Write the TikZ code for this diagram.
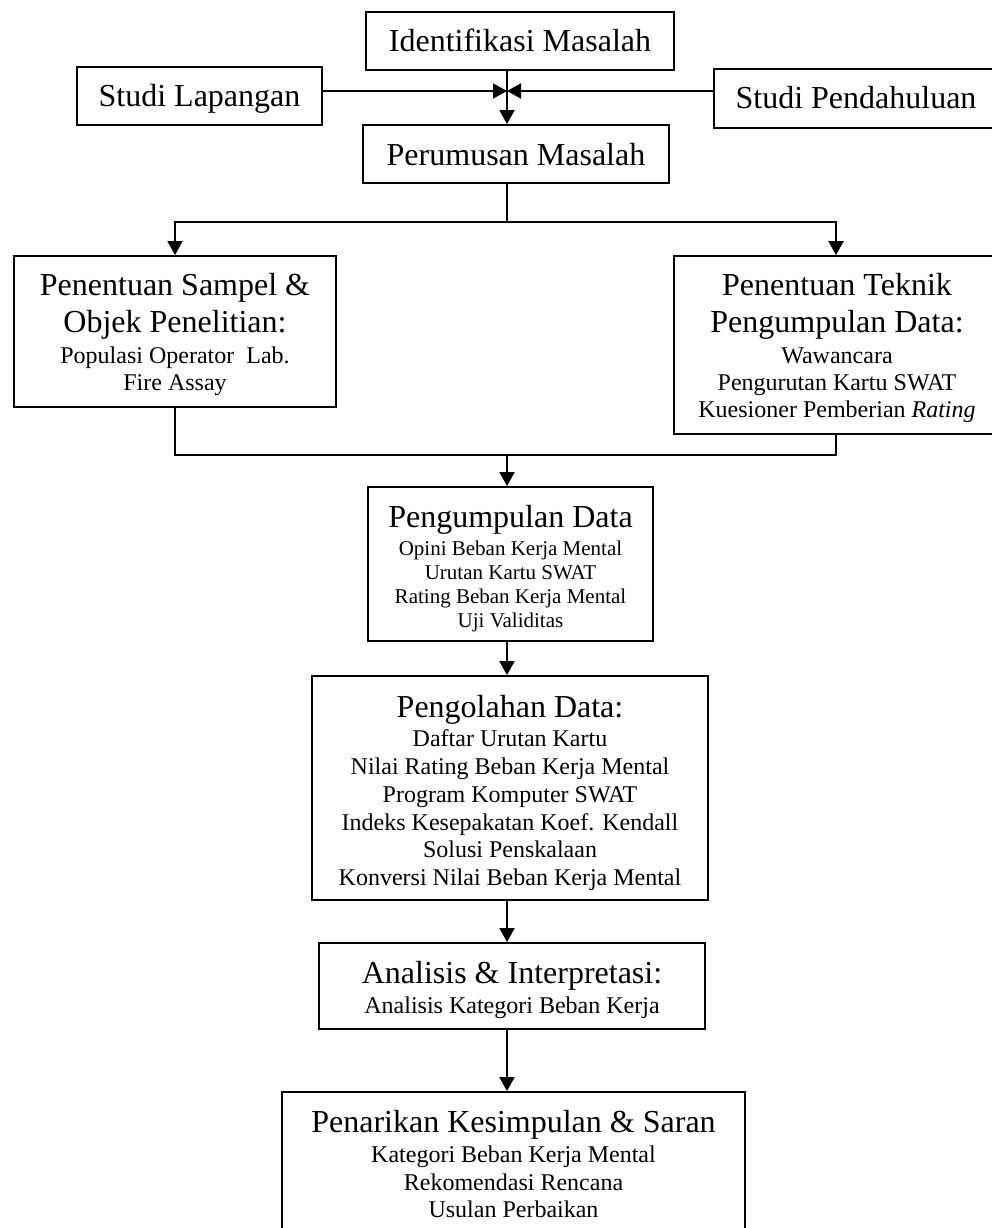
\documentclass[tikz,border=0pt]{standalone}
\usepackage{fontspec}
\setmainfont{Liberation Serif}
\usetikzlibrary{arrows.meta}
\tikzset{
  box/.style={draw, line width=1.8pt, rectangle, inner sep=0pt},
  hd/.style={font=\fontsize{32}{38}\selectfont, anchor=base, inner sep=0pt},
  sb/.style={font=\fontsize{24}{28}\selectfont, anchor=base, inner sep=0pt},
  sbs/.style={font=\fontsize{21}{25}\selectfont, anchor=base, inner sep=0pt},
  conn/.style={line width=1.8pt},
  arr/.style={line width=1.8pt, -{Triangle[length=14pt,width=15pt]}}
}
\begin{document}
\begin{tikzpicture}[x=1pt,y=-1pt]
\useasboundingbox (0,0) rectangle (992,1228);
\clip (0,0) rectangle (992,1228);
\fill[white] (0,0) rectangle (992,1228);
% boxes
\node[box, minimum width=308pt, minimum height=58pt] (ident) at (520,41) {};
\node[box, minimum width=245pt, minimum height=58pt] (slap) at (199.5,96) {};
\node[box, minimum width=284pt, minimum height=59pt] (spend) at (856,98.5) {};
\node[box, minimum width=306pt, minimum height=58pt] (perum) at (516,154) {};
\node[box, minimum width=322pt, minimum height=151pt] (lbox) at (175,331.5) {};
\node[box, minimum width=324pt, minimum height=178pt] (rbox) at (836,345) {};
\node[box, minimum width=285pt, minimum height=154pt] (pengum) at (510.5,564) {};
\node[box, minimum width=396pt, minimum height=224pt] (pengol) at (510,788) {};
\node[box, minimum width=386pt, minimum height=86pt] (anal) at (512,986) {};
\node[box, minimum width=463pt, minimum height=140pt] (final) at (513.5,1162) {};
% texts
\node[hd] (t1) at (520,52) {Identifikasi Masalah};
\node[hd] (t2) at (199.5,107) {Studi Lapangan};
\node[hd] (t3) at (856,109) {Studi Pendahuluan};
\node[hd] (t4) at (516,165) {Perumusan Masalah};
\node[hd] (t5a) at (175,295) {Penentuan Sampel \&};
\node[hd] (t5b) at (175,332) {Objek Penelitian:};
\node[sb] (t5c) at (175,363) {Populasi Operator\ \ Lab.};
\node[sb] (t5d) at (175,390) {Fire Assay};
\node[hd] (t6a) at (837,295) {Penentuan Teknik};
\node[hd] (t6b) at (837,332) {Pengumpulan Data:};
\node[sb] (t6c) at (837,363) {Wawancara};
\node[sb] (t6d) at (837,390) {Pengurutan Kartu SWAT};
\node[sb] (t6e) at (837,417) {Kuesioner Pemberian \textit{Rating}};
\node[hd] (t7a) at (510.5,527) {Pengumpulan Data};
\node[sbs] (t7b) at (510.5,555) {Opini Beban Kerja Mental};
\node[sbs] (t7c) at (510.5,579) {Urutan Kartu SWAT};
\node[sbs] (t7d) at (510.5,603) {Rating Beban Kerja Mental};
\node[sbs] (t7e) at (510.5,627) {Uji Validitas};
\node[hd] (t8a) at (510,717) {Pengolahan Data:};
\node[sb] (t8b) at (510,746) {Daftar Urutan Kartu};
\node[sb] (t8c) at (510,774) {Nilai Rating Beban Kerja Mental};
\node[sb] (t8d) at (510,802) {Program Komputer SWAT};
\node[sb] (t8e) at (510,830) {Indeks Kesepakatan Koef. Kendall};
\node[sb] (t8f) at (510,857) {Solusi Penskalaan};
\node[sb] (t8g) at (510,885) {Konversi Nilai Beban Kerja Mental};
\node[hd] (t9a) at (512,983) {Analisis \& Interpretasi:};
\node[sb] (t9b) at (512,1013) {Analisis Kategori Beban Kerja};
\node[hd] (t10a) at (513.5,1132) {Penarikan Kesimpulan \& Saran};
\node[sb] (t10b) at (513.5,1162) {Kategori Beban Kerja Mental};
\node[sb] (t10c) at (513.5,1190) {Rekomendasi Rencana};
\node[sb] (t10d) at (513.5,1217) {Usulan Perbaikan};
% junction coordinates
\coordinate (jx) at (507,91);
\coordinate (split) at (507,222);
\coordinate (merge) at (507,455);
% connectors
\draw[arr] (ident.south -| jx) -- (perum.north -| jx);
\draw[arr] (slap.east |- jx) -- (jx);
\draw[arr] (spend.west |- jx) -- (jx);
\draw[conn] (perum.south -| split) -- (split);
\draw[arr] (split) -| (lbox.north);
\draw[arr] (split) -| (rbox.north);
\draw[conn] (lbox.south) |- (merge);
\draw[conn] (rbox.south) |- (merge);
\draw[arr] (merge) -- (pengum.north -| merge);
\draw[arr] (pengum.south -| merge) -- (pengol.north -| merge);
\draw[arr] (pengol.south -| merge) -- (anal.north -| merge);
\draw[arr] (anal.south -| merge) -- (final.north -| merge);
\end{tikzpicture}
\end{document}
